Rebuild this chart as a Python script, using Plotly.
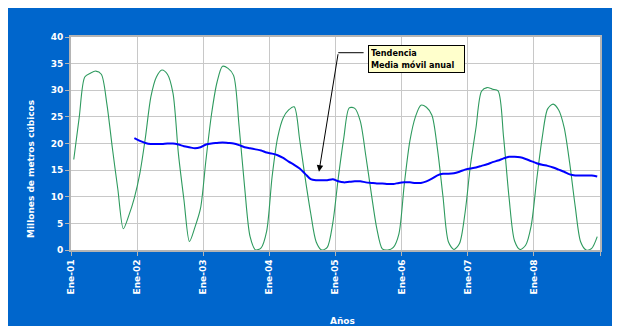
import plotly.graph_objects as go

# -----------------------------------------------------------------------------
# Datos mensuales (Ene-01 .. Dic-08), millones de m3
# -----------------------------------------------------------------------------
caudal_2001 = [17.0, 25.0, 32.5, 33.2, 33.6, 33.0, 27.5, 19.2, 11.4, 4.0, 6.5, 9.8]
caudal_2002 = [14.4, 21.1, 28.8, 32.5, 33.8, 33.0, 29.5, 18.0, 9.4, 1.6, 4.3, 7.8]
caudal_2003 = [17.0, 25.5, 31.5, 34.5, 34.1, 32.8, 23.3, 11.9, 2.5, 0.0, 0.4, 3.5]
caudal_2004 = [13.8, 21.1, 24.8, 26.3, 26.9, 20.7, 13.5, 6.9, 1.5, 0.0, 0.5, 5.0]
caudal_2005 = [13.5, 21.0, 26.7, 26.6, 24.2, 17.7, 10.6, 4.0, 0.2, 0.0, 0.5, 3.0]
caudal_2006 = [12.5, 20.5, 25.0, 27.2, 26.8, 25.3, 19.0, 10.1, 1.5, 0.1, 1.2, 6.9]
caudal_2007 = [16.0, 23.0, 29.8, 30.5, 30.2, 29.9, 21.2, 9.8, 1.7, 0.1, 0.9, 4.5]
caudal_2008 = [13.1, 21.0, 26.5, 27.4, 26.3, 23.0, 16.3, 8.2, 1.5, 0.0, 0.3, 2.5]

# Media movil anual, desde Dic-01 hasta Dic-08
tendencia = [
    21.0, 20.5, 20.1, 19.9, 19.9, 19.9, 20.0, 20.0, 19.8, 19.5, 19.3, 19.1, 19.3,
    19.8, 20.0, 20.1, 20.2, 20.1, 20.0, 19.7, 19.3, 19.1, 18.9, 18.7, 18.3,
    18.1, 17.8, 17.3, 16.6, 16.0, 15.3, 14.3, 13.3, 13.1, 13.1, 13.1, 13.3,
    12.9, 12.7, 12.8, 12.9, 12.9, 12.7, 12.6, 12.5, 12.5, 12.4, 12.4, 12.6,
    12.7, 12.7, 12.6, 12.6, 12.9, 13.4, 14.0, 14.3, 14.3, 14.4, 14.7, 15.1,
    15.3, 15.5, 15.8, 16.1, 16.5, 16.8, 17.2, 17.5, 17.5, 17.4, 17.1, 16.7,
    16.3, 16.0, 15.8, 15.5, 15.1, 14.7, 14.2, 14.0, 14.0, 14.0, 14.0, 13.8,
]

etiquetas_anos = ["Ene-01", "Ene-02", "Ene-03", "Ene-04", "Ene-05", "Ene-06", "Ene-07", "Ene-08"]

caudal = (caudal_2001 + caudal_2002 + caudal_2003 + caudal_2004 +
          caudal_2005 + caudal_2006 + caudal_2007 + caudal_2008)
meses = list(range(len(caudal)))
tendencia_full = [None] * (len(caudal) - len(tendencia)) + tendencia

# -----------------------------------------------------------------------------
# Estilo
# -----------------------------------------------------------------------------
AZUL_FONDO = '#0066cc'
GRIS = '#b4b4b4'
FUENTE = 'Tahoma, "DejaVu Sans", sans-serif'

fig = go.Figure()

fig.add_trace(go.Scatter(
    x=meses, y=caudal, mode='lines', name='Volumen',
    line=dict(color='#2e9a5e', width=1.1, shape='spline', smoothing=0.8),
    hovertemplate="%{y:.1f}<extra></extra>"
))

fig.add_trace(go.Scatter(
    x=meses, y=tendencia_full, mode='lines', name='Tendencia',
    line=dict(color='#0000ff', width=2, shape='spline', smoothing=0.8),
    hovertemplate="%{y:.1f}<extra></extra>"
))

# ticks en los limites de cada año
tick_pos = [-0.5 + 12 * i for i in range(len(etiquetas_anos) + 1)]

fig.update_layout(
    width=612, height=318,
    margin=dict(l=63, r=20, t=29, b=76),
    paper_bgcolor=AZUL_FONDO,
    plot_bgcolor='white',
    showlegend=False,
    font=dict(family=FUENTE, color='white', size=9),
    xaxis=dict(
        range=[-0.5, len(caudal) - 0.5],
        tickmode='array', tickvals=tick_pos, ticktext=etiquetas_anos + [""],
        tickangle=-90, tickfont=dict(family=FUENTE, size=9, color='white', weight='bold'),
        showgrid=True, gridcolor='#c8c8c8', gridwidth=1,
        showline=True, linecolor=GRIS, linewidth=2, mirror=True,
        ticks='outside', ticklen=4, tickcolor=GRIS,
        zeroline=False, automargin=False,
    ),
    yaxis=dict(
        range=[0, 40], dtick=5,
        tickfont=dict(family=FUENTE, size=9, color='white', weight='bold'),
        showgrid=True, gridcolor='#c8c8c8', gridwidth=1,
        showline=True, linecolor=GRIS, linewidth=2, mirror=True,
        ticks='outside', ticklen=4, tickcolor=GRIS,
        zeroline=False, automargin=False,
    ),
)

# titulos de los ejes como anotaciones (posicion fija respecto al area del grafico)
fig.add_annotation(
    text="<b>Millones de metros cúbicos</b>", textangle=-90,
    xref='paper', yref='paper', x=(31 - 71) / 529, y=(250 - 169) / 213,
    xanchor='center', yanchor='middle',
    showarrow=False, font=dict(family=FUENTE, size=9, color='white')
)
fig.add_annotation(
    text="<b>Años</b>",
    xref='paper', yref='paper', x=(342 - 71) / 529, y=(250 - 321) / 213,
    xanchor='center', yanchor='middle',
    showarrow=False, font=dict(family=FUENTE, size=9, color='white')
)

# Flecha de la tendencia
fig.add_annotation(
    x=44.5, y=14.7, ax=48.0, ay=37.05, xref='x', yref='y', axref='x', ayref='y',
    text="", showarrow=True, arrowhead=2, arrowsize=1.3, arrowwidth=1, arrowcolor='black'
)
fig.add_shape(type='line', xref='x', yref='y', x0=48.0, x1=52.6, y0=37.05, y1=37.05,
              line=dict(color='black', width=1))

# Caja de texto
fig.add_annotation(
    text="<b>Tendencia<br>Media móvil anual</b>",
    xref='x', yref='y', x=53.4, y=38.5, xanchor='left', yanchor='top',
    showarrow=False, align='left', width=91,
    bgcolor='#ffffcc', bordercolor='black', borderwidth=1, borderpad=2,
    font=dict(family='"DejaVu Sans Condensed", ' + FUENTE, size=9, color='black')
)

fig.write_html("out.html")
